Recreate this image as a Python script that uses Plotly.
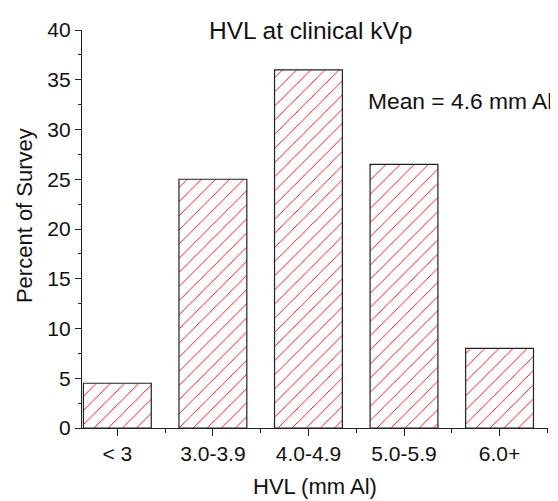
import plotly.graph_objects as go

categories = ["< 3", "3.0-3.9", "4.0-4.9", "5.0-5.9", "6.0+"]
percent = [4.5, 25, 36, 26.5, 8]
y_ticks = [0, 5, 10, 15, 20, 25, 30, 35, 40]

FONT = "Liberation Sans, Arial, sans-serif"
xpos = list(range(len(categories)))

# The page body adds an 8 px offset; the figure is sized/margined to compensate.
fig = go.Figure()
fig.add_trace(go.Bar(
    x=xpos, y=percent, width=0.71,
    marker=dict(
        color="white",
        line=dict(color="#222222", width=1.2),
        pattern=dict(shape="/", fgcolor="#ff0000", bgcolor="white", fgopacity=1,
                     size=10, solidity=0.09),
    ),
    showlegend=False,
))

fig.update_layout(
    width=550, height=493,
    margin=dict(l=74, r=10, t=13, b=73),
    paper_bgcolor="white", plot_bgcolor="white",
    font=dict(family=FONT, size=21, color="#111111"),
    xaxis=dict(
        range=[-0.37, 4.507],
        tickmode="array", tickvals=xpos, ticktext=categories,
        ticks="outside", ticklen=7, tickwidth=1.2, tickcolor="#222",
        showline=True, linecolor="#222", linewidth=1.3,
        showgrid=False, zeroline=False,
        tickfont=dict(size=21),
        minor=dict(tick0=0.5, dtick=1, ticks="outside", ticklen=4, tickwidth=1.2, tickcolor="#222"),
    ),
    yaxis=dict(
        range=[0, 40],
        tickmode="array", tickvals=y_ticks,
        ticks="outside", ticklen=6, tickwidth=1.2, tickcolor="#222",
        showline=True, linecolor="#222", linewidth=1.3,
        showgrid=False, zeroline=False,
        tickfont=dict(size=21),
        minor=dict(tick0=2.5, dtick=5, ticks="outside", ticklen=3, tickwidth=1.2, tickcolor="#222"),
    ),
    annotations=[
        dict(text="HVL at clinical kVp", xref="paper", yref="paper", x=0.49, y=1.0,
             xanchor="center", yanchor="middle", showarrow=False, font=dict(size=24.5)),
        dict(text="Mean = 4.6 mm Al", xref="x", yref="y", x=2.6, y=32.9,
             xanchor="left", yanchor="middle", showarrow=False, font=dict(size=22.8)),
        dict(text="Percent of Survey", xref="paper", yref="paper", x=-0.1245, y=0.535,
             xanchor="center", yanchor="middle", textangle=-90, showarrow=False, font=dict(size=22)),
        dict(text="HVL (mm Al)", xref="paper", yref="paper", x=0.501, y=-0.147,
             xanchor="center", yanchor="middle", showarrow=False, font=dict(size=22)),
    ],
)

fig.write_html("out.html")
